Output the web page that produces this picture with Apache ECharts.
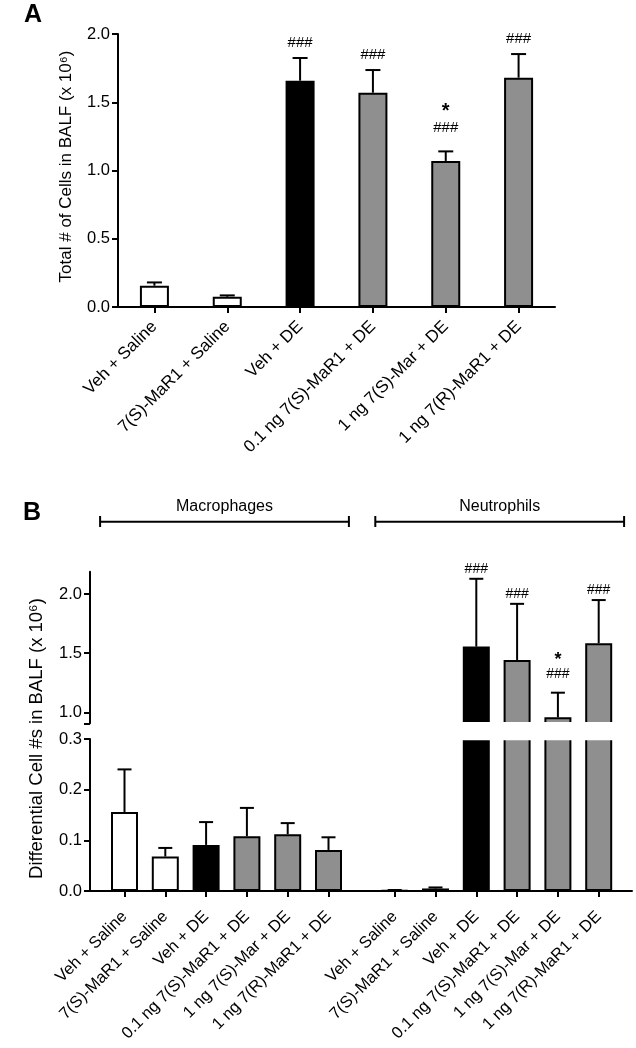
<!DOCTYPE html>
<html><head><meta charset="utf-8">
<script src="https://cdn.jsdelivr.net/npm/echarts@6/dist/echarts.min.js"></script>
<style>html,body{margin:0;padding:0;background:#fff}#c{width:636px;height:1048px}</style>
</head><body><div id="c"></div>
<script>
// ---------- data ----------
const categories = ['Veh + Saline', '7(S)-MaR1 + Saline', 'Veh + DE', '0.1 ng 7(S)-MaR1 + DE', '1 ng 7(S)-Mar + DE', '1 ng 7(R)-MaR1 + DE'];
const totalMean = [0.156, 0.075, 1.658, 1.570, 1.070, 1.680];
const totalSem  = [0.024, 0.010, 0.166, 0.166, 0.070, 0.173];
const totalSig  = ['', '', '###', '###', '*\n###', '###'];
const macroMean = [0.156, 0.068, 0.091, 0.108, 0.112, 0.081];
const macroSem  = [0.084, 0.017, 0.045, 0.056, 0.022, 0.025];
const neutroMean = [0.001, 0.005, 1.556, 1.443, 0.958, 1.585];
const neutroSem  = [0.001, 0.002, 0.574, 0.475, 0.208, 0.365];
const neutroSig  = ['', '', '###', '###', '*\n###', '###'];
const groupNames = ['Macrophages', 'Neutrophils'];
const titleA = 'Total # of Cells in BALF (x 10\u2076)';
const titleB = 'Differential Cell #s in BALF (x 10\u2076)';
const ticksA = [0, 0.5, 1.0, 1.5, 2.0];
const ticksBLow = [0, 0.1, 0.2, 0.3];
const ticksBHigh = [1.0, 1.5, 2.0];
const fills = ['#ffffff', '#ffffff', '#000000', '#8f8f8f', '#8f8f8f', '#8f8f8f'];

// ---------- layout ----------
const FONT = 'Liberation Sans';
const A = {left: 118, top: 34, width: 437, height: 273};
const BL = {left: 104.1, top: 739, width: 244.8, height: 152};
const BR = {left: 374.3, top: 739, width: 244.8, height: 152};
const BU = {left: 374.3, top: 571.7, width: 244.8, height: 151.6};
const BAX = {left: 90, top: 739, width: 542, height: 152};
const B_AXIS_X = 90;
const hiMin = 0.907, hiMax = 2.19;

const chart = echarts.init(document.getElementById('c'), null, {renderer: 'canvas'});
const lineStyle = {color: '#000', width: 2};
const fmt = v => v.toFixed(1);

function errRender(sig, capHalf, font, starFont, hashOff, starOff, hashOff2) {
  return function (params, api) {
    const i = api.value(0), m = api.value(1), s = api.value(2);
    const p0 = api.coord([i, m]), p1 = api.coord([i, m + s]);
    const cs = params.coordSys;
    if (p1[1] > cs.y + cs.height + 0.5 || p1[1] < cs.y - 0.5) return {type: 'group', children: []};
    const st = {stroke: '#000', lineWidth: 2};
    const ch = [
      {type: 'line', shape: {x1: p0[0], y1: p0[1], x2: p1[0], y2: p1[1]}, style: st},
      {type: 'line', shape: {x1: p1[0] - capHalf, y1: p1[1], x2: p1[0] + capHalf, y2: p1[1]}, style: st}
    ];
    const lab = sig ? sig[params.dataIndex] : '';
    if (lab) {
      const parts = lab.split('\n');
      if (parts.length === 1) {
        ch.push({type: 'text', x: p1[0], y: p1[1] - hashOff, style: {text: parts[0], align: 'center', verticalAlign: 'middle', font: font, fill: '#000'}});
      } else {
        ch.push({type: 'text', x: p1[0], y: p1[1] - starOff, style: {text: parts[0], align: 'center', verticalAlign: 'middle', font: starFont, fill: '#000'}});
        ch.push({type: 'text', x: p1[0], y: p1[1] - hashOff2, style: {text: parts[1], align: 'center', verticalAlign: 'middle', font: font, fill: '#000'}});
      }
    }
    return {type: 'group', children: ch};
  };
}

function catAxis(gi, show, fontSize, margin) {
  return {
    type: 'category', gridIndex: gi, data: categories, boundaryGap: true,
    axisLine: {show: gi === 0, onZero: false, lineStyle: lineStyle},
    axisTick: {show: show, alignWithLabel: true, length: 6, lineStyle: lineStyle},
    axisLabel: {show: show, rotate: 45, interval: 0, margin: margin, color: '#000', fontFamily: FONT, fontSize: fontSize},
    splitLine: {show: false}
  };
}

const barItem = {color: p => fills[p.dataIndex], borderColor: '#000', borderWidth: 2};
const errData = (m, s) => m.map((v, i) => [i, v, s[i]]);
const tickLabel = {formatter: fmt, color: '#000', fontFamily: FONT, fontSize: 16.5, margin: 8};

const option = {
  animation: false,
  backgroundColor: '#fff',
  grid: [A, BL, BR, BU, BAX].map(g => Object.assign({containLabel: false}, g)),
  xAxis: [
    catAxis(0, true, 17, 17),
    catAxis(1, true, 16.5, 23),
    catAxis(2, true, 16.5, 23),
    catAxis(3, false, 14, 10),
    {type: 'value', gridIndex: 4, min: 0, max: 1, axisLine: {show: true, onZero: false, lineStyle: lineStyle},
     axisTick: {show: false}, axisLabel: {show: false}, splitLine: {show: false}}
  ],
  yAxis: [
    {type: 'value', gridIndex: 0, min: ticksA[0], max: ticksA[ticksA.length - 1], interval: 0.5,
     axisLine: {show: true, lineStyle: lineStyle}, axisTick: {show: true, length: 6, lineStyle: lineStyle},
     axisLabel: tickLabel, splitLine: {show: false}},
    {type: 'value', gridIndex: 1, min: ticksBLow[0], max: ticksBLow[ticksBLow.length - 1], interval: 0.1, offset: BL.left - B_AXIS_X,
     axisLine: {show: true, lineStyle: lineStyle}, axisTick: {show: true, length: 6, lineStyle: lineStyle},
     axisLabel: tickLabel, splitLine: {show: false}},
    {type: 'value', gridIndex: 2, min: ticksBLow[0], max: ticksBLow[ticksBLow.length - 1], interval: 0.1, show: false, splitLine: {show: false}},
    {type: 'value', gridIndex: 3, min: hiMin, max: hiMax, offset: BU.left - B_AXIS_X,
     axisLine: {show: true, lineStyle: lineStyle},
     axisTick: {show: true, length: 6, lineStyle: lineStyle, customValues: [hiMin].concat(ticksBHigh)},
     axisLabel: Object.assign({customValues: ticksBHigh}, tickLabel),
     splitLine: {show: false}},
    {type: 'value', gridIndex: 4, min: 0, max: 1, show: false, splitLine: {show: false}}
  ],
  series: [
    {type: 'bar', xAxisIndex: 0, yAxisIndex: 0, data: totalMean, barWidth: 29, itemStyle: barItem, clip: true},
    {type: 'custom', xAxisIndex: 0, yAxisIndex: 0, data: errData(totalMean, totalSem), encode: {x: 0, y: 1},
     renderItem: errRender(totalSig, 7.5, '15px ' + FONT, 'bold 20px ' + FONT, 15, 40, 24), z: 5},
    {type: 'bar', xAxisIndex: 1, yAxisIndex: 1, data: macroMean, barWidth: 27, itemStyle: barItem, clip: true},
    {type: 'custom', xAxisIndex: 1, yAxisIndex: 1, data: errData(macroMean, macroSem), encode: {x: 0, y: 1},
     renderItem: errRender(null, 7, '14px ' + FONT, 'bold 18px ' + FONT, 10, 32, 19), z: 5},
    {type: 'bar', xAxisIndex: 2, yAxisIndex: 2, data: neutroMean, barWidth: 27, itemStyle: barItem, clip: true},
    {type: 'custom', xAxisIndex: 2, yAxisIndex: 2, data: errData(neutroMean, neutroSem), encode: {x: 0, y: 1},
     renderItem: errRender(null, 7, '14px ' + FONT, 'bold 18px ' + FONT, 10, 32, 19), z: 5},
    {type: 'bar', xAxisIndex: 3, yAxisIndex: 3, data: neutroMean, barWidth: 27, itemStyle: barItem, clip: true},
    {type: 'custom', xAxisIndex: 3, yAxisIndex: 3, data: errData(neutroMean, neutroSem), encode: {x: 0, y: 1},
     renderItem: errRender(neutroSig, 7, '14px ' + FONT, 'bold 18px ' + FONT, 10, 33, 19), z: 5}
  ],
  graphic: [
    {type: 'text', x: 33, y: 15, style: {text: 'A', align: 'center', verticalAlign: 'middle', font: 'bold 25px ' + FONT, fill: '#000'}},
    {type: 'text', x: 32, y: 513, style: {text: 'B', align: 'center', verticalAlign: 'middle', font: 'bold 25px ' + FONT, fill: '#000'}},
    // axis titles
    {type: 'text', x: 66, y: 166.5, rotation: Math.PI / 2, style: {text: titleA, align: 'center', verticalAlign: 'middle', font: '17px ' + FONT, fill: '#000'}},
    {type: 'text', x: 37, y: 738.5, rotation: Math.PI / 2, style: {text: titleB, align: 'center', verticalAlign: 'middle', font: '18.5px ' + FONT, fill: '#000'}},
    // break gap cover
    {type: 'rect', z: 100, shape: {x: BU.left - 5, y: BU.top + BU.height - 1.2, width: BU.width + 10, height: BL.top - (BU.top + BU.height) + 2.4}, style: {fill: '#fff'}},
    // brackets
    {type: 'line', shape: {x1: BL.left - 4, y1: 521.7, x2: BL.left + BL.width, y2: 521.7}, style: {stroke: '#000', lineWidth: 2}},
    {type: 'line', shape: {x1: BL.left - 4, y1: 516, x2: BL.left - 4, y2: 527}, style: {stroke: '#000', lineWidth: 2}},
    {type: 'line', shape: {x1: BL.left + BL.width, y1: 516, x2: BL.left + BL.width, y2: 527}, style: {stroke: '#000', lineWidth: 2}},
    {type: 'text', x: BL.left - 4 + (BL.width + 4) / 2, y: 507, style: {text: groupNames[0], align: 'center', verticalAlign: 'middle', font: '16px ' + FONT, fill: '#000'}},
    {type: 'line', shape: {x1: BR.left + 1, y1: 521.7, x2: BR.left + BR.width + 5, y2: 521.7}, style: {stroke: '#000', lineWidth: 2}},
    {type: 'line', shape: {x1: BR.left + 1, y1: 516, x2: BR.left + 1, y2: 527}, style: {stroke: '#000', lineWidth: 2}},
    {type: 'line', shape: {x1: BR.left + BR.width + 5, y1: 516, x2: BR.left + BR.width + 5, y2: 527}, style: {stroke: '#000', lineWidth: 2}},
    {type: 'text', x: BR.left + 1 + (BR.width + 4) / 2, y: 507, style: {text: groupNames[1], align: 'center', verticalAlign: 'middle', font: '16px ' + FONT, fill: '#000'}}
  ]
};
chart.setOption(option);
</script>
</body></html>
